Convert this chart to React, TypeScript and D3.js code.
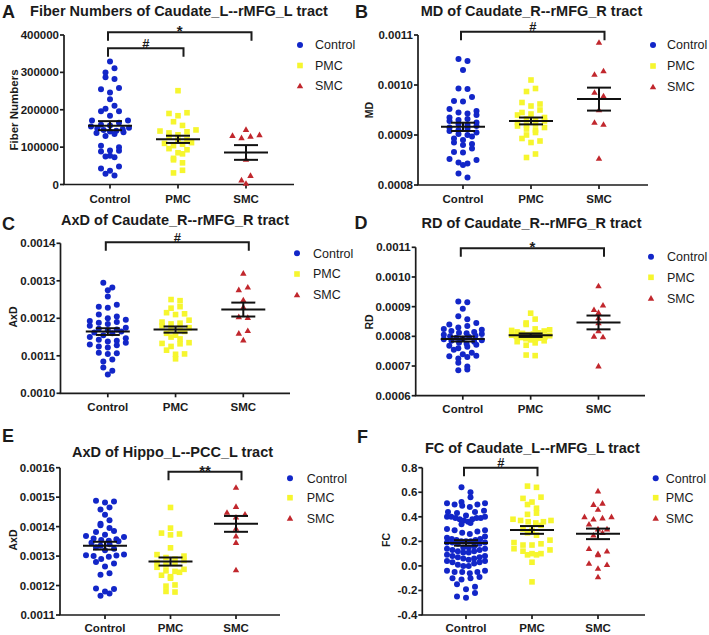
import React from 'react';
import * as d3 from 'd3';

const GROUPS = ['Control', 'PMC', 'SMC'];
const COLORS: Record<string, string> = { Control: '#1226c8', PMC: '#f6f62e', SMC: '#c1272d' };

// ---- Panel A: Fiber numbers ----
const aTicks = [0, 100000, 200000, 300000, 400000];
const aControl = [329000, 311000, 300000, 287000, 282000, 258000, 255000, 246000, 228000, 211000, 203000, 196000, 196000, 184000, 171000, 171000, 165000, 160000, 158000, 155000, 152000, 150000, 148000, 146000, 144000, 142000, 140000, 138000, 135000, 130000, 104000, 100000, 91000, 90000, 88000, 77000, 75000, 73000, 48000, 43000, 37000, 29000, 24000];
const aPMC = [251000, 192000, 190000, 184000, 168000, 158000, 146000, 143000, 141000, 138000, 133000, 128000, 120000, 118000, 112000, 110000, 108000, 104000, 96000, 93000, 85000, 82000, 70000, 66000, 58000, 38000, 31000];
const aSMC = [147000, 133000, 131000, 129000, 125000, 67000, 24000, 12000, 3000];

// ---- Panel B: MD ----
const bTicks = [0.0008, 0.0009, 0.0010, 0.0011];
const bControl = [0.001052, 0.001048, 0.001030, 0.000993, 0.000992, 0.000976, 0.000968, 0.000967, 0.000952, 0.000948, 0.000945, 0.000943, 0.000940, 0.000935, 0.000932, 0.000930, 0.000928, 0.000925, 0.000922, 0.000920, 0.000918, 0.000915, 0.000913, 0.000910, 0.000908, 0.000905, 0.000902, 0.000900, 0.000897, 0.000893, 0.000890, 0.000885, 0.000882, 0.000880, 0.000873, 0.000866, 0.000865, 0.000852, 0.000850, 0.000845, 0.000843, 0.000840, 0.000823, 0.000815];
const bPMC = [0.001010, 0.000993, 0.000987, 0.000965, 0.000962, 0.000958, 0.000950, 0.000945, 0.000942, 0.000940, 0.000935, 0.000932, 0.000930, 0.000928, 0.000925, 0.000922, 0.000920, 0.000918, 0.000915, 0.000912, 0.000910, 0.000905, 0.000900, 0.000893, 0.000888, 0.000885, 0.000862, 0.000855];
const bSMC = [0.001085, 0.001028, 0.001021, 0.000985, 0.000978, 0.000950, 0.000925, 0.000921, 0.000853];

// ---- Panel C: AxD caudate ----
const cTicks = [0.0010, 0.0011, 0.0012, 0.0013, 0.0014];
const cControl = [0.001295, 0.001282, 0.001275, 0.001258, 0.001236, 0.001231, 0.001228, 0.001210, 0.001205, 0.001200, 0.001196, 0.001193, 0.001190, 0.001188, 0.001185, 0.001180, 0.001175, 0.001172, 0.001170, 0.001168, 0.001165, 0.001162, 0.001160, 0.001155, 0.001150, 0.001147, 0.001143, 0.001140, 0.001138, 0.001135, 0.001130, 0.001128, 0.001125, 0.001122, 0.001108, 0.001107, 0.001105, 0.001090, 0.001085, 0.001069, 0.001060, 0.001050];
const cPMC = [0.001250, 0.001247, 0.001231, 0.001227, 0.001215, 0.001212, 0.001210, 0.001195, 0.001190, 0.001187, 0.001185, 0.001180, 0.001175, 0.001172, 0.001168, 0.001165, 0.001160, 0.001155, 0.001150, 0.001145, 0.001135, 0.001133, 0.001132, 0.001125, 0.001115, 0.001105, 0.001104, 0.001092];
const cSMC = [0.001320, 0.001283, 0.001276, 0.001249, 0.001230, 0.001204, 0.001202, 0.001167, 0.001160, 0.001142];

// ---- Panel D: RD ----
const dTicks = [0.0006, 0.0007, 0.0008, 0.0009, 0.0010, 0.0011];
const dControl = [0.000917, 0.000915, 0.000893, 0.000868, 0.000858, 0.000845, 0.000840, 0.000835, 0.000830, 0.000825, 0.000822, 0.000818, 0.000815, 0.000812, 0.000810, 0.000808, 0.000805, 0.000802, 0.000800, 0.000798, 0.000795, 0.000792, 0.000790, 0.000787, 0.000785, 0.000782, 0.000778, 0.000775, 0.000772, 0.000768, 0.000765, 0.000760, 0.000755, 0.000745, 0.000740, 0.000735, 0.000733, 0.000730, 0.000725, 0.000711, 0.000698, 0.000688, 0.000686];
const dPMC = [0.000878, 0.000858, 0.000845, 0.000840, 0.000825, 0.000822, 0.000820, 0.000818, 0.000815, 0.000812, 0.000810, 0.000808, 0.000806, 0.000804, 0.000802, 0.000800, 0.000798, 0.000796, 0.000794, 0.000792, 0.000790, 0.000788, 0.000785, 0.000782, 0.000778, 0.000770, 0.000737, 0.000735];
const dSMC = [0.000970, 0.000905, 0.000890, 0.000880, 0.000862, 0.000845, 0.000818, 0.000800, 0.000798, 0.000700];

// ---- Panel E: AxD hippo ----
const eTicks = [0.0011, 0.0012, 0.0013, 0.0014, 0.0015, 0.0016];
const eControl = [0.001488, 0.001485, 0.001482, 0.001465, 0.001458, 0.001440, 0.001422, 0.001410, 0.001405, 0.001395, 0.001385, 0.001382, 0.001372, 0.001368, 0.001365, 0.001360, 0.001357, 0.001355, 0.001352, 0.001350, 0.001345, 0.001340, 0.001335, 0.001330, 0.001325, 0.001320, 0.001305, 0.001303, 0.001302, 0.001300, 0.001298, 0.001290, 0.001280, 0.001275, 0.001265, 0.001242, 0.001237, 0.001190, 0.001188, 0.001180, 0.001173, 0.001165];
const ePMC = [0.001465, 0.001395, 0.001378, 0.001375, 0.001372, 0.001328, 0.001305, 0.001300, 0.001295, 0.001290, 0.001285, 0.001278, 0.001275, 0.001270, 0.001262, 0.001255, 0.001250, 0.001248, 0.001245, 0.001235, 0.001230, 0.001225, 0.001202, 0.001198, 0.001180, 0.001178];
const eSMC = [0.001533, 0.001468, 0.001448, 0.001442, 0.001432, 0.001394, 0.001368, 0.001346, 0.001253];

// ---- Panel F: FC ----
const fTicks = [-0.4, -0.2, 0.0, 0.2, 0.4, 0.6, 0.8];
const fControl = [0.64, 0.60, 0.56, 0.52, 0.51, 0.51, 0.50, 0.50, 0.49, 0.48, 0.45, 0.44, 0.44, 0.43, 0.41, 0.40, 0.40, 0.40, 0.39, 0.39, 0.39, 0.38, 0.38, 0.37, 0.36, 0.35, 0.34, 0.30, 0.29, 0.29, 0.28, 0.27, 0.26, 0.24, 0.23, 0.22, 0.22, 0.21, 0.21, 0.20, 0.20, 0.20, 0.19, 0.19, 0.19, 0.18, 0.18, 0.16, 0.15, 0.15, 0.14, 0.14, 0.13, 0.13, 0.12, 0.12, 0.11, 0.11, 0.09, 0.08, 0.08, 0.07, 0.07, 0.06, 0.06, 0.05, 0.04, 0.04, 0.03, 0.03, 0.02, 0.01, 0.00, 0.00, -0.04, -0.04, -0.05, -0.05, -0.05, -0.06, -0.09, -0.10, -0.10, -0.11, -0.15, -0.17, -0.19, -0.22, -0.25, -0.26];
const fPMC = [0.65, 0.64, 0.56, 0.55, 0.52, 0.50, 0.47, 0.43, 0.42, 0.38, 0.37, 0.37, 0.36, 0.36, 0.35, 0.33, 0.30, 0.29, 0.27, 0.25, 0.21, 0.19, 0.18, 0.17, 0.17, 0.14, 0.13, 0.12, 0.10, 0.10, 0.09, 0.09, 0.03, -0.13];
const fSMC = [0.61, 0.51, 0.50, 0.46, 0.40, 0.40, 0.39, 0.38, 0.34, 0.30, 0.30, 0.27, 0.25, 0.14, 0.12, 0.10, 0.09, 0.02, 0.01, -0.02, -0.09];

const FONT = '"Liberation Sans", Arial, Helvetica, sans-serif';
const INK = '#1b1b1b';

type Bracket = { from: string; to: string; label: string; y: number };
type Panel = {
  letter: string; title: string; yLabel: string; series: number[][]; ticks: number[];
  fmt: (v: number) => string;
  L: {
    axisX: number; yTop: number; yBot: number; cx0: number; cx2: number; xEnd: number; xLabelY: number;
    titleX: number; titleY: number; letterX: number; letterY: number; yLabX: number; yLabY: number; yLabSize: number;
    lgX: number; lgTX: number; lgY: number[];
  };
  brackets: Bracket[];
};

const f4 = (v: number) => v.toFixed(4);
const f1 = (v: number) => v.toFixed(1);
const fi = (v: number) => String(v);

const PANELS: Panel[] = [
  {
    letter: 'A', title: 'Fiber Numbers of Caudate_L--rMFG_L tract', yLabel: 'Fiber Numbers',
    series: [aControl, aPMC, aSMC], ticks: aTicks, fmt: fi,
    L: { axisX: 64, yTop: 35, yBot: 184.5, cx0: 110, cx2: 246, xEnd: 294, xLabelY: 203,
      titleX: 179, titleY: 16, letterX: 2, letterY: 18, yLabX: 14, yLabY: 110, yLabSize: 11.5,
      lgX: 300, lgTX: 315, lgY: [45, 65.5, 86] },
    brackets: [
      { from: 'Control', to: 'SMC', label: '*', y: 32.3 },
      { from: 'Control', to: 'PMC', label: '#', y: 48.3 },
    ],
  },
  {
    letter: 'B', title: 'MD of Caudate_R--rMFG_R tract', yLabel: 'MD',
    series: [bControl, bPMC, bSMC], ticks: bTicks, fmt: f4,
    L: { axisX: 418, yTop: 35, yBot: 185, cx0: 463, cx2: 599, xEnd: 648, xLabelY: 203,
      titleX: 531.5, titleY: 16, letterX: 355, letterY: 18, yLabX: 369, yLabY: 110, yLabSize: 10.5,
      lgX: 653, lgTX: 667, lgY: [45, 66, 87] },
    brackets: [{ from: 'Control', to: 'SMC', label: '#', y: 31.7 }],
  },
  {
    letter: 'C', title: 'AxD of Caudate_R--rMFG_R tract', yLabel: 'AxD',
    series: [cControl, cPMC, cSMC], ticks: cTicks, fmt: f4,
    L: { axisX: 60.5, yTop: 243.3, yBot: 393.3, cx0: 107.8, cx2: 243.3, xEnd: 290, xLabelY: 410.5,
      titleX: 175, titleY: 225, letterX: 2, letterY: 230, yLabX: 13, yLabY: 317, yLabSize: 10.5,
      lgX: 297, lgTX: 313, lgY: [253.3, 274, 295] },
    brackets: [{ from: 'Control', to: 'SMC', label: '#', y: 242.3 }],
  },
  {
    letter: 'D', title: 'RD of Caudate_R--rMFG_R tract', yLabel: 'RD',
    series: [dControl, dPMC, dSMC], ticks: dTicks, fmt: f4,
    L: { axisX: 415.7, yTop: 247.3, yBot: 395.7, cx0: 462.8, cx2: 598.5, xEnd: 645, xLabelY: 413,
      titleX: 531.5, titleY: 228.3, letterX: 354.5, letterY: 228.5, yLabX: 369, yLabY: 322, yLabSize: 10.5,
      lgX: 651, lgTX: 667, lgY: [256.7, 277.3, 298.3] },
    brackets: [{ from: 'Control', to: 'SMC', label: '*', y: 248.3 }],
  },
  {
    letter: 'E', title: 'AxD of Hippo_L--PCC_L tract', yLabel: 'AxD',
    series: [eControl, ePMC, eSMC], ticks: eTicks, fmt: f4,
    L: { axisX: 60, yTop: 467.7, yBot: 615, cx0: 105, cx2: 236, xEnd: 280, xLabelY: 632,
      titleX: 172.5, titleY: 457, letterX: 2, letterY: 441.5, yLabX: 13, yLabY: 540, yLabSize: 10.5,
      lgX: 290, lgTX: 306.7, lgY: [478.3, 497.7, 518.3] },
    brackets: [{ from: 'PMC', to: 'SMC', label: '**', y: 471.7 }],
  },
  {
    letter: 'F', title: 'FC of Caudate_L--rMFG_L tract', yLabel: 'FC',
    series: [fControl, fPMC, fSMC], ticks: fTicks, fmt: f1,
    L: { axisX: 422.3, yTop: 467.7, yBot: 615, cx0: 466, cx2: 598, xEnd: 645, xLabelY: 632,
      titleX: 532.3, titleY: 452.5, letterX: 357, letterY: 443, yLabX: 385.7, yLabY: 540, yLabSize: 10.5,
      lgX: 655.7, lgTX: 665.7, lgY: [478.3, 497.7, 518.3] },
    brackets: [{ from: 'Control', to: 'PMC', label: '#', y: 467.7 }],
  },
];

// Prism-like scatter layout: group into rows by pixel height, spread horizontally (V shaped)
function swarm(values: number[], y: (v: number) => number, rowH = 5, maxHalf = 19, gap = 9) {
  const pts = values.map((v) => ({ v, py: y(v) })).sort((a, b) => a.py - b.py);
  const rows: { v: number; py: number }[][] = [];
  let cur: { v: number; py: number }[] = [];
  let startY = 0;
  for (const p of pts) {
    if (cur.length && p.py - startY > rowH) { rows.push(cur); cur = []; }
    if (!cur.length) startY = p.py;
    cur.push(p);
  }
  if (cur.length) rows.push(cur);
  const out: { v: number; py: number; dx: number }[] = [];
  rows.forEach((row, ri) => {
    const n = row.length;
    const s = n > 1 ? Math.min(gap, (2 * maxHalf) / (n - 1)) : 0;
    const offs = d3.range(n).map((i) => (i - (n - 1) / 2) * s);
    const sign = ri % 2 === 0 ? 1 : -1;
    const ordered = offs.slice().sort((a, b) => Math.abs(b) - Math.abs(a) || sign * (a - b));
    row.forEach((p, i) => out.push({ ...p, dx: ordered[i] }));
  });
  return out;
}

function Marker({ g, x, y }: { g: string; x: number; y: number }) {
  const c = COLORS[g];
  if (g === 'Control') return <circle cx={x} cy={y} r={3} fill={c} />;
  if (g === 'PMC') return <rect x={x - 2.8} y={y - 2.8} width={5.6} height={5.6} fill={c} />;
  const path = d3.symbol().type(d3.symbolTriangle).size(18)() as string;
  return <path d={path} transform={`translate(${x},${y + 0.5})`} fill={c} />;
}

function PanelView({ p }: { p: Panel }) {
  const L = p.L;
  const y = d3.scaleLinear().domain([p.ticks[0], p.ticks[p.ticks.length - 1]]).range([L.yBot, L.yTop]);
  const x = d3.scalePoint<string>().domain(GROUPS).range([L.cx0, L.cx2]);
  const lw = 1.7;
  return (
    <g>
      {/* panel letter and title */}
      <text x={L.letterX} y={L.letterY} fontSize={18} fontWeight="bold" fill={INK}>{p.letter}</text>
      <text x={L.titleX} y={L.titleY} fontSize={14.5} fontWeight="bold" textAnchor="middle" fill={INK}>{p.title}</text>
      {/* y axis */}
      <line x1={L.axisX} x2={L.axisX} y1={y(p.ticks[0])} y2={y(p.ticks[p.ticks.length - 1])} stroke={INK} strokeWidth={lw} />
      {p.ticks.map((t) => (
        <g key={t}>
          <line x1={L.axisX - 4} x2={L.axisX} y1={y(t)} y2={y(t)} stroke={INK} strokeWidth={lw} />
          <text x={L.axisX - 5} y={y(t) + 4} fontSize={11.5} fontWeight="bold" textAnchor="end" fill={INK}>{p.fmt(t)}</text>
        </g>
      ))}
      <text transform={`translate(${L.yLabX},${L.yLabY}) rotate(-90)`} fontSize={L.yLabSize} fontWeight="bold" textAnchor="middle" dominantBaseline="central" fill={INK}>{p.yLabel}</text>
      {/* x axis */}
      <line x1={L.axisX - lw / 2} x2={L.xEnd} y1={L.yBot} y2={L.yBot} stroke={INK} strokeWidth={lw} />
      {GROUPS.map((g) => (
        <g key={g}>
          <line x1={x(g)} x2={x(g)} y1={L.yBot} y2={L.yBot + 4} stroke={INK} strokeWidth={lw} />
          <text x={x(g)} y={L.xLabelY} fontSize={11.5} fontWeight="bold" textAnchor="middle" fill={INK}>{g}</text>
        </g>
      ))}
      {/* points */}
      {GROUPS.map((g, gi) => (
        <g key={g}>
          {swarm(p.series[gi], y).map((pt, i) => (
            <Marker key={i} g={g} x={(x(g) as number) + pt.dx} y={pt.py} />
          ))}
        </g>
      ))}
      {/* mean +/- SEM */}
      {GROUPS.map((g, gi) => {
        const vals = p.series[gi];
        const m = d3.mean(vals) as number;
        const sem = (d3.deviation(vals) as number) / Math.sqrt(vals.length);
        const cx = x(g) as number;
        return (
          <g key={g} stroke="#111" strokeWidth={2}>
            <line x1={cx - 22} x2={cx + 22} y1={y(m)} y2={y(m)} />
            <line x1={cx} x2={cx} y1={y(m - sem)} y2={y(m + sem)} />
            <line x1={cx - 12} x2={cx + 12} y1={y(m + sem)} y2={y(m + sem)} />
            <line x1={cx - 12} x2={cx + 12} y1={y(m - sem)} y2={y(m - sem)} />
          </g>
        );
      })}
      {/* significance brackets */}
      {p.brackets.map((b, i) => {
        const x1 = (x(b.from) as number) - 2;
        const x2 = (x(b.to) as number) + 5.5;
        const isStar = b.label.includes('*');
        return (
          <g key={i}>
            <path d={`M${x1},${b.y + 8.5}V${b.y}H${x2}V${b.y + 8.5}`} fill="none" stroke={INK} strokeWidth={2} />
            <text x={(x1 + x2) / 2} y={isStar ? b.y + 4 : b.y - 0.5} fontSize={isStar ? 15 : 13} fontWeight="bold" textAnchor="middle" fill={INK}>{b.label}</text>
          </g>
        );
      })}
      {/* legend */}
      {GROUPS.map((g, gi) => (
        <g key={g}>
          <Marker g={g} x={L.lgX} y={L.lgY[gi]} />
          <text x={L.lgTX} y={L.lgY[gi] + 4.3} fontSize={12.5} fill={INK}>{g}</text>
        </g>
      ))}
    </g>
  );
}

export default function App() {
  return (
    <svg width={709} height={635} viewBox="0 0 709 635" style={{ position: 'absolute', left: 0, top: 0, background: '#fff', fontFamily: FONT }}>
      <rect width={709} height={635} fill="#fff" />
      {PANELS.map((p) => <PanelView key={p.letter} p={p} />)}
    </svg>
  );
}
